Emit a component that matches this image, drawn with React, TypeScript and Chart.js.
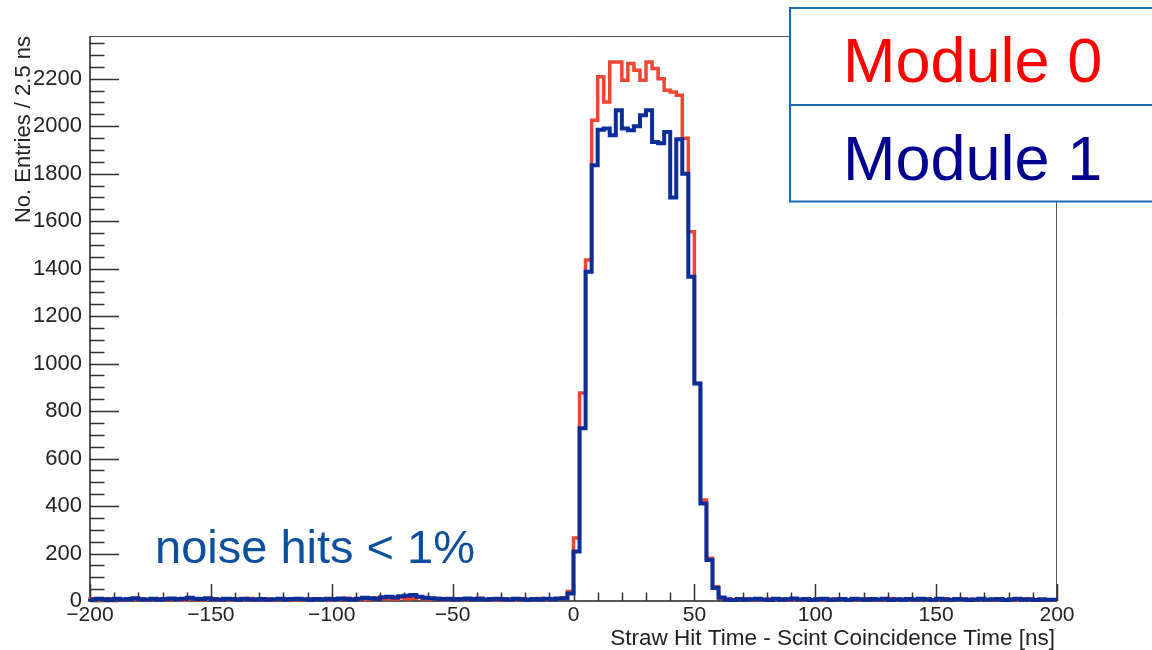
import React, { useEffect, useRef } from "react";
import { Chart, registerables } from "chart.js";

Chart.register(...registerables);

// Histogram binning: 160 bins of 2.5 ns from -200 to 200 ns
const BIN_START = -200;
const BIN_WIDTH = 2.5;

// Module 0 (red) – bins from -200 to 0 ns
const module0Pre = [
  5, 9, 4, 7, 10, 6, 4, 8, 6, 9,
  4, 7, 10, 5, 6, 9, 4, 8, 6, 5,
  7, 10, 5, 8, 4, 9, 6, 11, 7, 5,
  8, 4, 6, 9, 5, 7, 4, 10, 6, 8,
  5, 9, 6, 12, 8, 7, 5, 10, 13, 9,
  11, 8, 14, 10, 12, 16, 9, 7, 11, 6,
  8, 10, 5, 7, 9, 12, 6, 8, 5, 9,
  7, 4, 10, 6, 8, 11, 5, 7, 9, 14,
];
// Module 0 – bins from 0 to 65 ns
const module0Signal = [
  40, 265, 876, 1436, 2025, 2208, 2102, 2271, 2271, 2194,
  2264, 2236, 2194, 2271, 2243, 2200, 2151, 2144, 2130, 1949,
  1555, 916, 425, 180, 60, 12,
];
// Module 0 – bins from 65 to 200 ns
const module0Post = [
  8, 5, 6, 9, 4, 7, 5, 8, 6, 10,
  5, 7, 4, 9, 6, 8, 5, 7, 10, 6,
  4, 8, 5, 9, 7, 4, 6, 11, 5, 8,
  6, 4, 9, 7, 5, 6, 10, 4, 8, 6,
  7, 5, 9, 4, 6, 8, 5, 7, 4, 9,
  6, 5, 8, 4,
];

// Module 1 (blue) – bins from -200 to 0 ns
const module1Pre = [
  8, 6, 10, 7, 5, 9, 6, 8, 12, 7,
  6, 9, 5, 8, 11, 7, 10, 14, 9, 8,
  12, 7, 6, 10, 8, 5, 9, 7, 6, 8,
  5, 7, 9, 6, 8, 10, 7, 5, 8, 6,
  9, 7, 11, 8, 6, 10, 14, 12, 9, 16,
  18, 15, 20, 22, 25, 18, 14, 12, 10, 8,
  9, 6, 8, 11, 7, 9, 6, 8, 10, 7,
  6, 9, 7, 5, 8, 6, 9, 7, 11, 12,
];
// Module 1 – bins from 0 to 65 ns
const module1Signal = [
  32, 208, 728, 1387, 1836, 1985, 1990, 1962, 2067, 1990,
  1983, 2000, 2046, 2067, 1934, 1928, 1976, 1700, 1945, 1800,
  1366, 916, 411, 173, 55, 15,
];
// Module 1 – bins from 65 to 200 ns
const module1Post = [
  6, 4, 8, 5, 7, 10, 6, 4, 9, 5,
  7, 11, 6, 8, 4, 7, 9, 5, 6, 8,
  4, 10, 7, 5, 8, 6, 9, 4, 7, 5,
  8, 6, 10, 7, 4, 9, 6, 5, 8, 7,
  4, 6, 9, 5, 7, 8, 4, 6, 10, 5,
  7, 4, 6, 5,
];

const module0 = [...module0Pre, ...module0Signal, ...module0Post];
const module1 = [...module1Pre, ...module1Signal, ...module1Post];

const seriesNames = ["Module 0", "Module 1"];
const xAxisTitle = "Straw Hit Time - Scint Coincidence Time [ns]";
const yAxisTitle = "No. Entries / 2.5 ns";
const annotationText = "noise hits < 1%";

// axis tick labels
const xTickValues = [-200, -150, -100, -50, 0, 50, 100, 150, 200];
const yTickValues = [0, 200, 400, 600, 800, 1000, 1200, 1400, 1600, 1800, 2000, 2200];

const X_MIN = -200;
const X_MAX = 200;
const Y_MIN = 0;
const Y_MAX = 2380;
const X_MAJOR = 50;
const X_MINOR = 10;
const Y_MAJOR = 200;
const Y_MINOR = 50;

const FONT = "'Liberation Sans', Arial, Helvetica, sans-serif";

function toSteps(values: number[]) {
  const pts = values.map((v, i) => ({ x: BIN_START + i * BIN_WIDTH, y: v }));
  pts.push({ x: BIN_START + values.length * BIN_WIDTH, y: values[values.length - 1] });
  return pts;
}

const rootFramePlugin = {
  id: "rootFrame",
  beforeDatasetsDraw(chart: any) {
    const { ctx, chartArea } = chart;
    const xs = chart.scales.x;
    const ys = chart.scales.y;
    const { left, right, top, bottom } = chartArea;
    ctx.save();
    // frame
    ctx.strokeStyle = "#555";
    ctx.lineWidth = 1;
    ctx.beginPath();
    ctx.moveTo(left, top + 0.5);
    ctx.lineTo(right, top + 0.5);
    ctx.moveTo(right - 0.5, top);
    ctx.lineTo(right - 0.5, bottom);
    ctx.stroke();
    // axes
    ctx.strokeStyle = "#222";
    ctx.lineWidth = 1.5;
    ctx.beginPath();
    ctx.moveTo(left, top);
    ctx.lineTo(left, bottom);
    ctx.lineTo(right, bottom);
    ctx.stroke();
    // ticks
    ctx.strokeStyle = "#333";
    ctx.lineWidth = 1.5;
    ctx.beginPath();
    const yLenMajor = 0.03 * (right - left);
    const xLenMajor = 0.03 * (bottom - top);
    for (let v = Y_MIN; v <= Y_MAX + 1e-6; v += Y_MINOR) {
      const py = Math.round(ys.getPixelForValue(v)) + 0.5;
      const major = Math.abs(v % Y_MAJOR) < 1e-6;
      const len = major ? yLenMajor : yLenMajor / 2;
      ctx.moveTo(left, py);
      ctx.lineTo(left + len, py);
    }
    for (let v = X_MIN; v <= X_MAX + 1e-6; v += X_MINOR) {
      const px = Math.round(xs.getPixelForValue(v)) + 0.5;
      const major = Math.abs(v % X_MAJOR) < 1e-6;
      const len = major ? xLenMajor : xLenMajor / 2;
      ctx.moveTo(px, bottom);
      ctx.lineTo(px, bottom - len);
    }
    ctx.stroke();
    ctx.restore();
  },
  afterDatasetsDraw(chart: any) {
    const { ctx, chartArea } = chart;
    ctx.save();
    // y axis title
    ctx.fillStyle = "#222";
    ctx.font = `22px ${FONT}`;
    ctx.translate(29.5, chartArea.top);
    ctx.rotate(-Math.PI / 2);
    ctx.textAlign = "right";
    ctx.textBaseline = "alphabetic";
    ctx.fillText(yAxisTitle, 0, 0);
    ctx.restore();

    ctx.save();
    ctx.fillStyle = "#222";
    ctx.font = `22.5px ${FONT}`;
    ctx.textAlign = "right";
    ctx.textBaseline = "alphabetic";
    ctx.fillText(xAxisTitle, chartArea.right - 2, 645);

    // annotation
    ctx.fillStyle = "#0b4f9e";
    ctx.font = `47px ${FONT}`;
    ctx.textAlign = "left";
    ctx.fillText(annotationText, 155, 563);

    // legend box
    const bx = 790, by = 8, bw = 400, bh = 193.5, mid = 105;
    ctx.fillStyle = "#ffffff";
    ctx.fillRect(bx, by, bw, bh);
    ctx.strokeStyle = "#1b67b0";
    ctx.lineWidth = 2;
    ctx.strokeRect(bx, by, bw, bh);
    ctx.beginPath();
    ctx.moveTo(bx, mid);
    ctx.lineTo(bx + bw, mid);
    ctx.stroke();
    ctx.font = `63px ${FONT}`;
    ctx.fillStyle = "#ff0000";
    ctx.fillText(seriesNames[0], 843, 82);
    ctx.fillStyle = "#000090";
    ctx.fillText(seriesNames[1], 843, 180);
    ctx.restore();
  },
};

export default function App() {
  const canvasRef = useRef<HTMLCanvasElement | null>(null);

  useEffect(() => {
    if (!canvasRef.current) return;
    const chart = new Chart(canvasRef.current, {
      type: "line",
      data: {
        datasets: [
          {
            label: seriesNames[0],
            data: toSteps(module0),
            borderColor: "#ef4634",
            borderWidth: 3.5,
            stepped: "after",
            pointRadius: 0,
            fill: false,
            order: 2,
            clip: 6,
          },
          {
            label: seriesNames[1],
            data: toSteps(module1),
            borderColor: "#0b2d98",
            borderWidth: 4,
            stepped: "after",
            pointRadius: 0,
            fill: false,
            order: 1,
            clip: 6,
          },
        ],
      },
      options: {
        animation: false,
        responsive: false,
        devicePixelRatio: 1,
        layout: { padding: { top: 36, right: 95, left: 0, bottom: 0 } },
        plugins: { legend: { display: false }, tooltip: { enabled: false } },
        scales: {
          x: {
            type: "linear",
            min: X_MIN,
            max: X_MAX,
            afterFit: (s: any) => {
              s.height = 49;
            },
            afterBuildTicks: (s: any) => {
              s.ticks = xTickValues.map((v) => ({ value: v }));
            },
            grid: { display: false, drawTicks: false },
            border: { display: false },
            ticks: {
              autoSkip: false,
              maxRotation: 0,
              padding: 2,
              color: "#222",
              font: { family: FONT, size: 21 },
              callback: (v: any) => (Number(v) < 0 ? "\u2212" + Math.abs(Number(v)) : String(v)),
            },
          },
          y: {
            type: "linear",
            min: Y_MIN,
            max: Y_MAX,
            afterFit: (s: any) => {
              s.width = 90;
            },
            afterBuildTicks: (s: any) => {
              s.ticks = yTickValues.map((v) => ({ value: v }));
            },
            grid: { display: false, drawTicks: false },
            border: { display: false },
            ticks: {
              autoSkip: false,
              padding: 8,
              color: "#222",
              font: { family: FONT, size: 22 },
              callback: (v: any) => String(v),
            },
          },
        },
      },
      plugins: [rootFramePlugin],
    });
    return () => chart.destroy();
  }, []);

  return (
    <div style={{ position: "absolute", left: 0, top: 0, width: 1152, height: 650, background: "#fff" }}>
      <canvas ref={canvasRef} width={1152} height={650} style={{ width: 1152, height: 650, display: "block" }} />
    </div>
  );
}
